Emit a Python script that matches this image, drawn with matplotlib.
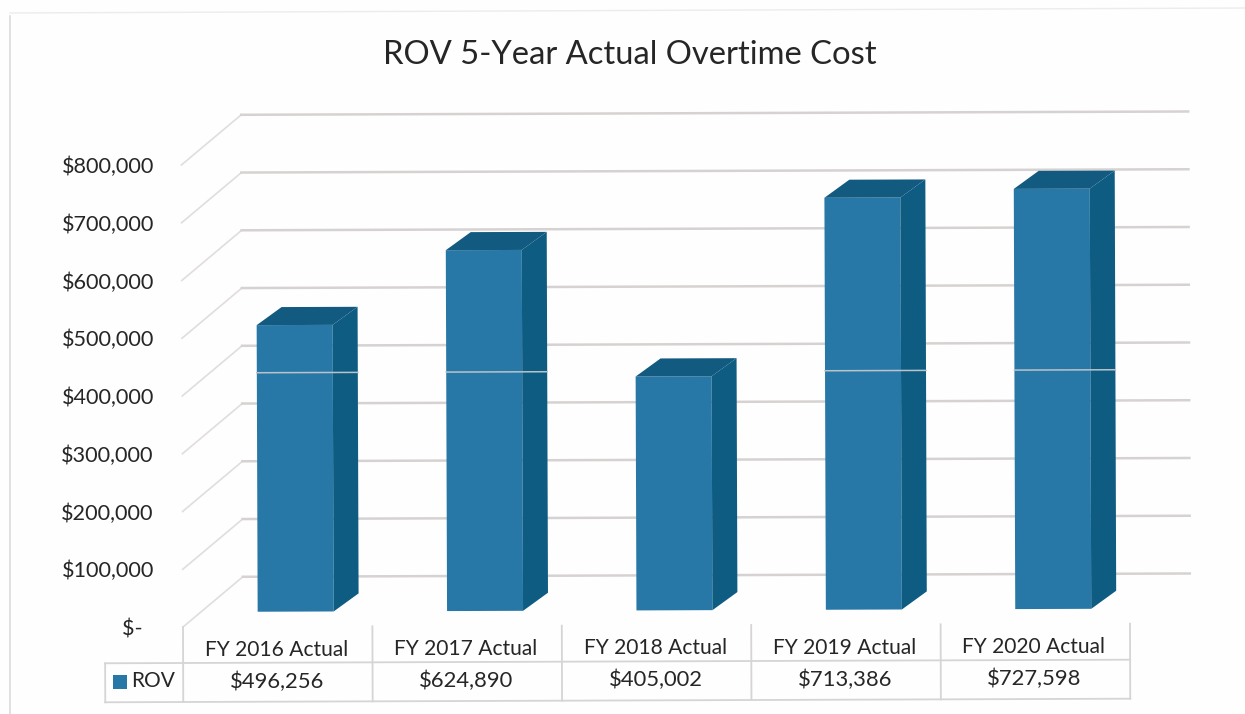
import matplotlib
matplotlib.use('Agg')
import matplotlib.pyplot as plt
from matplotlib.patches import Polygon, Rectangle
from matplotlib.transforms import Affine2D

plt.rcParams['font.family'] = ['Lato', 'DejaVu Sans']

years = ['FY 2016 Actual', 'FY 2017 Actual', 'FY 2018 Actual', 'FY 2019 Actual', 'FY 2020 Actual']
series_name = 'ROV'
values = [496256, 624890, 405002, 713386, 727598]
value_labels = ['$496,256', '$624,890', '$405,002', '$713,386', '$727,598']
y_ticks = [0, 100000, 200000, 300000, 400000, 500000, 600000, 700000, 800000]
y_labels = ['$-  ', '$100,000', '$200,000', '$300,000', '$400,000', '$500,000', '$600,000', '$700,000', '$800,000']

W, H = 1245, 714
LEFT, RIGHT, Y0, Y800 = 183, 1130, 627, 165

fig = plt.figure(figsize=(W / 100, H / 100), dpi=100, facecolor='#fefefe')
ax = fig.add_axes([LEFT / W, 1 - Y0 / H, (RIGHT - LEFT) / W, (Y0 - Y800) / H])
ax.set_xlim(-0.5, 4.5)
ax.set_ylim(0, 800000)
for s in ax.spines.values():
    s.set_visible(False)
ax.patch.set_alpha(0)
ax.set_xticks([])
ax.set_yticks(y_ticks)
ax.set_yticklabels(y_labels, fontsize=15.6, color='#262626')
ax.tick_params(axis='y', length=0, pad=21)

# pixel sizes to data sizes
xs = 5 / (RIGHT - LEFT)
ys = 800000 / (Y0 - Y800)

# the scan is very slightly rotated
tr = ax.transData + Affine2D().rotate_deg_around(LEFT, H - Y0, 0.2)

GRID = '#d6d2d1'
WALL_DX, WALL_DY = 60 * xs, 50 * ys
for t in y_ticks:
    ax.plot([-0.5, -0.5 + WALL_DX], [t, t + WALL_DY], color='#e2dddd', lw=1.2, transform=tr, clip_on=False, zorder=1)
    ax.plot([-0.5 + WALL_DX, 4.5 + WALL_DX], [t + WALL_DY, t + WALL_DY], color=GRID, lw=1.8, transform=tr, clip_on=False, zorder=1)

# bars
BAR_W = 76 * xs
DEPTH_X, DEPTH_Y = 25 * xs, 18 * ys
OFF_X, OFF_Y = 18 * xs, 15 * ys
FRONT, TOP, SIDE = '#2878a7', '#125a80', '#0f5c82'
streak = (Y0 - 373) * ys
for i, v in enumerate(values):
    x0 = i - BAR_W / 2 + OFF_X
    x1 = x0 + BAR_W
    y0 = OFF_Y
    y1 = v + OFF_Y
    ax.add_patch(Rectangle((x0, y0), BAR_W, v, fc=FRONT, ec='none', transform=tr, clip_on=False, zorder=3))
    ax.add_patch(Polygon([(x0, y1), (x1, y1), (x1 + DEPTH_X, y1 + DEPTH_Y), (x0 + DEPTH_X, y1 + DEPTH_Y)],
                         fc=TOP, ec='none', transform=tr, clip_on=False, zorder=3))
    ax.add_patch(Polygon([(x1, y0), (x1, y1), (x1 + DEPTH_X, y1 + DEPTH_Y), (x1 + DEPTH_X, y0 + DEPTH_Y)],
                         fc=SIDE, ec='none', transform=tr, clip_on=False, zorder=3))
    # pale streak from the scanner, only shows on the taller bars
    if y1 > streak:
        ax.plot([x0, x1 + DEPTH_X], [streak, streak], color='#b9c3c9', lw=1.1, transform=tr, clip_on=False, zorder=4)

# data table
TBL = '#d6d4d4'
row1 = -(663 - Y0) * ys
row2 = -(702 - Y0) * ys
legend_x = -0.5 - (LEFT - 105) * xs
ax.plot([legend_x, 4.5], [row1, row1], color=TBL, lw=1.3, transform=tr, clip_on=False)
ax.plot([legend_x, 4.5], [row2, row2], color=TBL, lw=1.3, transform=tr, clip_on=False)
ax.plot([legend_x, legend_x], [row1, row2], color=TBL, lw=1.3, transform=tr, clip_on=False)
for i in range(6):
    ax.plot([i - 0.5, i - 0.5], [0, row2], color=TBL, lw=1.3, transform=tr, clip_on=False)
for i, (c, lab) in enumerate(zip(years, value_labels)):
    ax.text(i - 1.5 * xs, -(650 - Y0) * ys, c, ha='center', va='center', fontsize=15.1, color='#262626', transform=tr)
    ax.text(i - 1 * xs, -(682 - Y0) * ys, lab, ha='center', va='center', fontsize=15.8, color='#262626', transform=tr)
ax.add_patch(Rectangle((-0.5 - 70 * xs, -(689 - Y0) * ys), 14 * xs, 14 * ys, fc=FRONT, ec='none', clip_on=False))
ax.text(-0.5 - 51.5 * xs, -(681 - Y0) * ys, series_name, ha='left', va='center', fontsize=15, color='#262626')

fig.text(630 / W, 1 - 55 / H, 'ROV 5-Year Actual Overtime Cost', ha='center', va='center', fontsize=23.6, color='#262626')

# chart frame left by the scan
fig.add_artist(plt.Line2D([10 / W, 10 / W], [0, 1 - 16 / H], color='#dcdcdc', lw=1.2))
fig.add_artist(plt.Line2D([10 / W, 1], [1 - 13 / H, 1 - 8 / H], color='#ececec', lw=1.0))

fig.savefig('out.png', dpi=100, facecolor=fig.get_facecolor())
